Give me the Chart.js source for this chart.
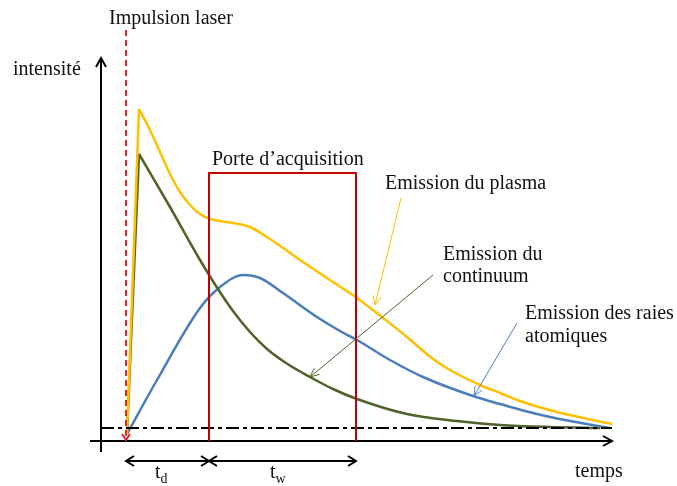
<!DOCTYPE HTML>
<html>
<head>
  <meta charset='utf-8'>
  <title>Chronogramme LIBS</title>
  <script src='https://cdn.jsdelivr.net/npm/chart.js'></script>
  <style>
    body { margin: 0; padding: 0; background-color: #fff; }
    canvas { display: block; }
  </style>
</head>
<body>
  <canvas id='libsChart' width='677' height='486'></canvas>
  <script>
    var plasmaT = [1, 13, 24, 34, 44, 54, 64, 74, 84, 94, 107, 124, 141, 174, 207, 231, 257, 281, 307, 324, 354, 374, 397, 431, 486];
    var plasmaI = [-6, 319, 298, 276, 254, 236, 223, 214, 209, 207, 205, 201, 191, 168, 146, 130, 110, 91, 69, 58, 43, 35, 26, 16, 4];

    var continuumT = [1, 13, 44, 74, 90, 107, 124, 141, 160, 184, 207, 231, 281, 331, 374, 424, 474];
    var continuumI = [-6, 274, 221, 168, 142, 117, 96, 79, 65, 51, 39, 29, 14, 7, 3, 1, 0];

    var raiesT = [1, 31, 74, 94, 117, 134, 157, 191, 214, 231, 264, 297, 347, 374, 397, 431, 484];
    var raiesI = [-6, 48, 120, 141, 153, 150, 135, 111, 97, 88, 68, 51, 32, 24, 17.5, 9.5, 0];

    // porte d'acquisition : délai td et largeur tw
    var tDelay = 83;
    var tWidth = 147;
    var gateLevel = 255;

    var couleurPlasma = '#ffc000';
    var couleurContinuum = '#4f6228';
    var couleurRaies = '#4a7ebb';

    function points(ts, is) {
      var out = [];
      for (var i = 0; i < ts.length; i++) out.push({ x: ts[i], y: is[i] });
      return out;
    }

    var plasma = points(plasmaT, plasmaI);
    var continuum = points(continuumT, continuumI);
    var raies = points(raiesT, raiesI);

    function serie(data, color, lisse) {
      var d = { data: data, borderColor: color, borderWidth: 2.5, pointRadius: 0, fill: false, tension: 0 };
      if (lisse) {
        d.tension = 0.4;
        d.cubicInterpolationMode = 'monotone';
      }
      return d;
    }

    // flèche ouverte (chevron) au bout d'un segment
    function chevron(ctx, x0, y0, x1, y1, len, half) {
      var a = Math.atan2(y1 - y0, x1 - x0);
      var c = Math.cos(a), s = Math.sin(a);
      ctx.beginPath();
      ctx.moveTo(x1 - len * c - half * s, y1 - len * s + half * c);
      ctx.lineTo(x1, y1);
      ctx.lineTo(x1 - len * c + half * s, y1 - len * s - half * c);
      ctx.stroke();
    }

    function ligne(ctx, x0, y0, x1, y1) {
      ctx.beginPath();
      ctx.moveTo(x0, y0);
      ctx.lineTo(x1, y1);
      ctx.stroke();
    }

    var textes = [
      { text: 'Impulsion laser', t: -17, i: 404 },
      { text: 'intensité', t: -113, i: 353 },
      { text: 'Porte d\u2019acquisition', t: 86, i: 263 },
      { text: 'Emission du plasma', t: 259, i: 239 },
      { text: 'Emission du', t: 317, i: 168 },
      { text: 'continuum', t: 317, i: 146 },
      { text: 'Emission des raies', t: 399, i: 109 },
      { text: 'atomiques', t: 399, i: 86 },
      { text: 'temps', t: 449, i: -49 }
    ];

    var annotations = [
      { color: couleurPlasma, t0: 275, i0: 230, t1: 249, i1: 123 },
      { color: couleurContinuum, t0: 307, i0: 153, t1: 184, i1: 51 },
      { color: couleurRaies, t0: 391, i0: 105, t1: 348, i1: 32 }
    ];

    var schemaPlugin = {
      id: 'schema',
      afterDatasetsDraw: function(chart) {
        var ctx = chart.ctx;
        var X = function(v) { return chart.scales.x.getPixelForValue(v); };
        var Y = function(v) { return chart.scales.y.getPixelForValue(v); };
        ctx.save();
        ctx.lineCap = 'butt';

        // axes
        ctx.strokeStyle = '#000';
        ctx.lineWidth = 2;
        ligne(ctx, X(-25), Y(-24), X(-25), Y(370));
        chevron(ctx, X(-25), Y(0), X(-25), Y(370), 9, 5);
        ligne(ctx, X(-36), Y(-13), X(486), Y(-13));
        chevron(ctx, X(0), Y(-13), X(486), Y(-13), 9, 5);

        // ligne de base (tiret-point)
        ctx.lineWidth = 2;
        ctx.setLineDash([13, 4, 4, 4]);
        ligne(ctx, X(-25), Y(0), X(486), Y(0));

        // impulsion laser
        ctx.strokeStyle = '#e3242b';
        ctx.lineWidth = 2;
        ctx.setLineDash([6, 4]);
        ligne(ctx, X(0), Y(398), X(0), Y(-10));
        ctx.setLineDash([]);
        chevron(ctx, X(0), Y(100), X(0), Y(-12), 6, 4);

        // porte d'acquisition
        ctx.strokeStyle = '#c00000';
        ctx.lineWidth = 2;
        ctx.beginPath();
        ctx.moveTo(X(tDelay), Y(-13));
        ctx.lineTo(X(tDelay), Y(gateLevel));
        ctx.lineTo(X(tDelay + tWidth), Y(gateLevel));
        ctx.lineTo(X(tDelay + tWidth), Y(-13));
        ctx.stroke();

        // td et tw
        ctx.strokeStyle = '#000';
        ctx.lineWidth = 2;
        ligne(ctx, X(0), Y(-33), X(tDelay), Y(-33));
        chevron(ctx, X(tDelay), Y(-33), X(0), Y(-33), 8, 5);
        chevron(ctx, X(0), Y(-33), X(tDelay), Y(-33), 8, 5);
        ligne(ctx, X(tDelay), Y(-33), X(tDelay + tWidth), Y(-33));
        chevron(ctx, X(tDelay + tWidth), Y(-33), X(tDelay), Y(-33), 8, 5);
        chevron(ctx, X(tDelay), Y(-33), X(tDelay + tWidth), Y(-33), 8, 5);

        // flèches des légendes
        ctx.lineWidth = 1;
        annotations.forEach(function(a) {
          ctx.strokeStyle = a.color;
          ligne(ctx, X(a.t0), Y(a.i0), X(a.t1), Y(a.i1));
          chevron(ctx, X(a.t0), Y(a.i0), X(a.t1), Y(a.i1), 9, 4);
        });

        // textes
        ctx.fillStyle = '#111';
        ctx.textBaseline = 'alphabetic';
        ctx.font = '20px "Liberation Serif", "Times New Roman", serif';
        textes.forEach(function(t) {
          ctx.fillText(t.text, X(t.t), Y(t.i));
        });
        // t_d et t_w avec indices
        [['d', 29], ['w', 144]].forEach(function(p) {
          ctx.font = '20px "Liberation Serif", serif';
          ctx.fillText('t', X(p[1]), Y(-50));
          var w = ctx.measureText('t').width;
          ctx.font = '14px "Liberation Serif", serif';
          ctx.fillText(p[0], X(p[1]) + w, Y(-55));
        });
        ctx.restore();
      }
    };

    var ctx = document.getElementById('libsChart').getContext('2d');
    var libsChart = new Chart(ctx, {
      type: 'line',
      data: {
        datasets: [
          serie(plasma.slice(0, 2), couleurPlasma, false),
          serie(plasma.slice(1), couleurPlasma, true),
          serie(continuum.slice(0, 2), couleurContinuum, false),
          serie(continuum.slice(1), couleurContinuum, true),
          serie(raies, couleurRaies, true)
        ]
      },
      options: {
        responsive: false,
        animation: false,
        layout: { padding: 0 },
        plugins: { legend: { display: false }, tooltip: { enabled: false } },
        scales: {
          x: { type: 'linear', min: -126, max: 551, display: false },
          y: { type: 'linear', min: -58, max: 428, display: false }
        }
      },
      plugins: [schemaPlugin]
    });
  </script>
</body>
</html>
